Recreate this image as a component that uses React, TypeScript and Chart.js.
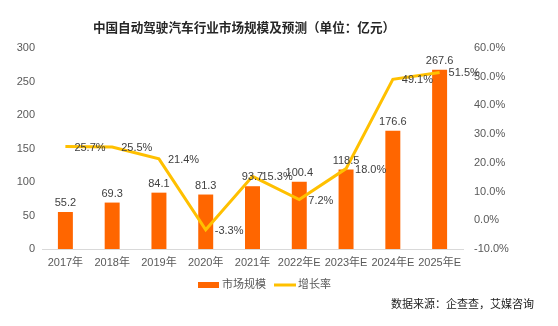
import React, { useEffect, useRef } from "react";
import { Chart, registerables } from "chart.js";

Chart.register(...registerables);

const categories = ["2017年", "2018年", "2019年", "2020年", "2021年", "2022年E", "2023年E", "2024年E", "2025年E"];
const marketSize = [55.2, 69.3, 84.1, 81.3, 93.7, 100.4, 118.5, 176.6, 267.6];
const growthRate = [25.7, 25.5, 21.4, -3.3, 15.3, 7.2, 18.0, 49.1, 51.5];
const titleText = "中国自动驾驶汽车行业市场规模及预测（单位：亿元）";
const sourceText = "数据来源：企查查，艾媒咨询";
const seriesNames = ["市场规模", "增长率"];

const FONT = '"Liberation Sans", "Noto Sans CJK SC", sans-serif';
const BAR_COLOR = "#FF6600";
const LINE_COLOR = "#FFC000";

const extrasPlugin = {
  id: "extras",
  afterDatasetsDraw(chart: any) {
    const ctx = chart.ctx;
    ctx.save();
    ctx.font = `11px ${FONT}`;
    ctx.fillStyle = "#404040";
    const barMeta = chart.getDatasetMeta(0);
    barMeta.data.forEach((el: any, i: number) => {
      ctx.textAlign = "center";
      ctx.textBaseline = "middle";
      ctx.fillText(marketSize[i].toFixed(1), el.x, el.y - 9);
    });
    const lineMeta = chart.getDatasetMeta(1);
    lineMeta.data.forEach((el: any, i: number) => {
      ctx.textAlign = "left";
      ctx.textBaseline = "middle";
      ctx.fillText(growthRate[i].toFixed(1) + "%", el.x + 9, el.y + 1);
    });
    ctx.restore();
  },
  afterDraw(chart: any) {
    const ctx = chart.ctx;
    ctx.save();
    // title
    ctx.font = `bold 12.6px ${FONT}`;
    ctx.fillStyle = "#262626";
    ctx.textAlign = "center";
    ctx.textBaseline = "middle";
    ctx.fillText(titleText, 244, 29);
    // legend
    ctx.font = `11px ${FONT}`;
    ctx.fillStyle = BAR_COLOR;
    ctx.fillRect(198, 282, 21, 6);
    ctx.fillStyle = "#595959";
    ctx.textAlign = "left";
    ctx.fillText(seriesNames[0], 222, 285);
    ctx.strokeStyle = LINE_COLOR;
    ctx.lineWidth = 3;
    ctx.beginPath();
    ctx.moveTo(274, 285);
    ctx.lineTo(296, 285);
    ctx.stroke();
    ctx.fillStyle = "#595959";
    ctx.fillText(seriesNames[1], 298, 285);
    // source
    ctx.fillStyle = "#1a1a1a";
    ctx.textAlign = "right";
    ctx.fillText(sourceText, 534, 305);
    ctx.restore();
  },
};

export default function App() {
  const ref = useRef<HTMLCanvasElement>(null);
  useEffect(() => {
    const chart = new Chart(ref.current as HTMLCanvasElement, {
      type: "bar",
      data: {
        labels: categories,
        datasets: [
          {
            type: "bar",
            label: seriesNames[0],
            data: marketSize,
            backgroundColor: BAR_COLOR,
            yAxisID: "y",
            barPercentage: 0.32,
            categoryPercentage: 1,
            order: 1,
          },
          {
            type: "line",
            label: seriesNames[1],
            data: growthRate,
            borderColor: LINE_COLOR,
            backgroundColor: LINE_COLOR,
            borderWidth: 3,
            pointRadius: 0,
            tension: 0,
            yAxisID: "y1",
            order: 0,
          } as any,
        ],
      },
      options: {
        animation: false,
        responsive: false,
        layout: { padding: { top: 48, left: 0, right: 35, bottom: 57 } },
        plugins: {
          legend: { display: false },
          title: { display: false },
          tooltip: { enabled: false },
        },
        scales: {
          x: {
            grid: { display: false, drawTicks: false },
            border: { display: true, color: "#D9D9D9", width: 1 },
            ticks: { color: "#595959", font: { size: 11, family: FONT }, padding: 7, maxRotation: 0, autoSkip: false },
            afterFit(scale: any) { scale.height = 20; },
          },
          y: {
            position: "left",
            min: 0,
            max: 300,
            grid: { display: false, drawTicks: false },
            border: { display: false },
            ticks: { stepSize: 50, color: "#595959", font: { size: 11, family: FONT }, padding: 7 },
            afterFit(scale: any) { scale.width = 42; },
          },
          y1: {
            position: "right",
            min: -10,
            max: 60,
            grid: { display: false, drawTicks: false },
            border: { display: false },
            ticks: {
              stepSize: 10,
              color: "#595959",
              font: { size: 11, family: FONT },
              padding: 11,
              callback: (v: any) => Number(v).toFixed(1) + "%",
            },
            afterFit(scale: any) { scale.width = 60; },
          },
        },
      },
      plugins: [extrasPlugin],
    });
    return () => chart.destroy();
  }, []);
  return (
    <div style={{ position: "fixed", left: 0, top: 0, width: 558, height: 326, background: "#fff" }}>
      <canvas ref={ref} width={558} height={326} style={{ width: 558, height: 326 }} />
    </div>
  );
}
